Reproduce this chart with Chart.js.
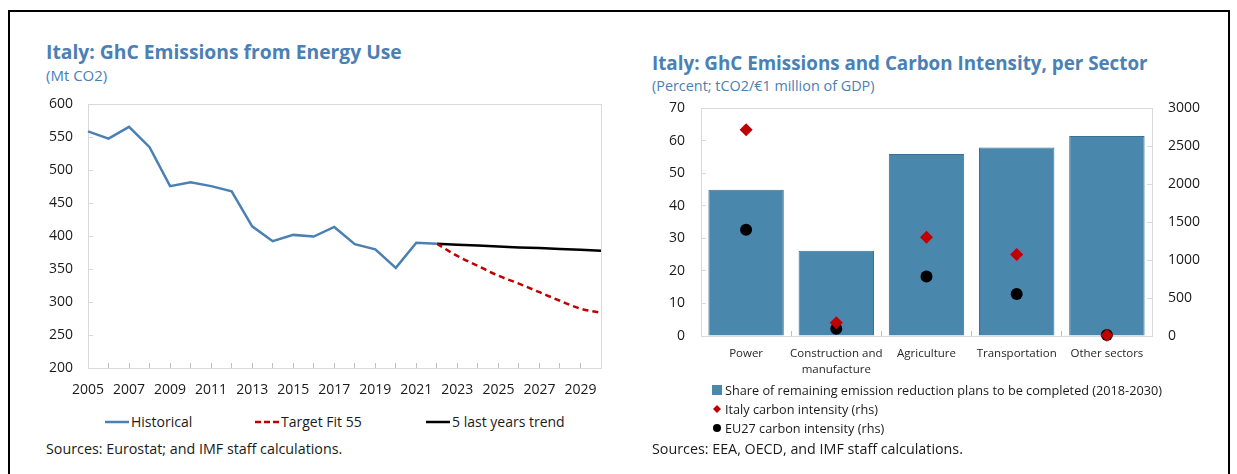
<!DOCTYPE html>
<html>
<head>
<meta charset="utf-8">
<script src="https://cdn.jsdelivr.net/npm/chart.js@4.4.1/dist/chart.umd.min.js"></script>
<style>
  body { margin: 0; width: 1237px; height: 474px; overflow: hidden; background: #fff;
         font-family: "Open Sans", sans-serif; color: #1a1a1a; position: relative; }
  .frame { position: absolute; left: 8px; top: 10px; width: 1218px; height: 480px; border: 2px solid #000; }
  .title { position: absolute; font-weight: 700; line-height: 20px; color: #4a80b4; white-space: nowrap; }
  .sub { position: absolute; line-height: 18px; color: #4a80b4; white-space: nowrap; }
  .src { position: absolute; font-size: 14.3px; line-height: 18px; white-space: nowrap; }
  .leg { position: absolute; white-space: nowrap; display: flex; align-items: center; }
  .leg svg { margin-right: 2px; }
  canvas { position: absolute; }
</style>
</head>
<body>
<div class="frame"></div>

<div class="title" style="left:46px; top:42px; font-size:19.3px;">Italy: GhC Emissions from Energy Use</div>
<div class="sub" style="left:46px; top:66px; font-size:15px;">(Mt CO2)</div>
<canvas id="left" width="590" height="326" style="left:30px; top:76px;"></canvas>
<div id="leftLegend"></div>
<div class="src" style="left:46px; top:440px;">Sources: Eurostat; and IMF staff calculations.</div>

<div class="title" style="left:652px; top:53px; font-size:18.8px;">Italy: GhC Emissions and Carbon Intensity, per Sector</div>
<div class="sub" style="left:652px; top:77px; font-size:14.4px;">(Percent; tCO2/€1 million of GDP)</div>
<canvas id="right" width="597" height="306" style="left:640px; top:79px;"></canvas>
<div id="rightLegend"></div>
<div class="src" style="left:652px; top:440px;">Sources: EEA, OECD, and IMF staff calculations.</div>

<script>
// left chart: emissions from energy use (Mt CO2)
const years = ['2005', '2006', '2007', '2008', '2009', '2010', '2011', '2012', '2013', '2014', '2015', '2016', '2017',
               '2018', '2019', '2020', '2021', '2022', '2023', '2024', '2025', '2026', '2027', '2028', '2029', '2030'];
const historical = [559, 548, 566, 535, 476, 482, 476, 468, 415, 392.5, 402, 399.5, 414,
                    388, 380, 352, 390, 388.5, null, null, null, null, null, null, null, null];
const targetFit55 = [null, null, null, null, null, null, null, null, null, null, null, null, null,
                     null, null, null, null, 388.5, 370, 355, 340, 328, 315, 302, 290, 284];
const trend5y = [null, null, null, null, null, null, null, null, null, null, null, null, null,
                 null, null, null, null, 388.5, 387, 386, 384.5, 383, 382, 380.5, 379.5, 378];

// right chart: share of plans left and carbon intensity per sector
const sectors = ['Power', ['Construction and', 'manufacture'], 'Agriculture', 'Transportation', 'Other sectors'];
const shareRemaining = [45, 26.2, 56, 58, 61.5];
const italyIntensity = [2720, 175, 1300, 1075, 10];
const eu27Intensity = [1400, 95, 785, 555, 12];

const blue = '#4a80b4';
const barBlue = '#4a87ad';
const red = '#c00000';
const frameGrey = '#d9d9d9';
const axisGrey = '#bfbfbf';

Chart.defaults.font.family = '"Open Sans", sans-serif';
Chart.defaults.color = '#1a1a1a';

// light box round the plot area
const plotFrame = {
    id: 'plotFrame',
    beforeDatasetsDraw(chart) {
        const { ctx, chartArea: a } = chart;
        ctx.save();
        ctx.strokeStyle = frameGrey;
        ctx.lineWidth = 1;
        ctx.strokeRect(Math.round(a.left) + 0.5, Math.round(a.top) + 0.5, Math.round(a.width), Math.round(a.height));
        ctx.restore();
    }
};

new Chart(document.getElementById('left'), {
    type: 'line',
    data: {
        labels: years,
        datasets: [{
            label: 'Historical',
            data: historical,
            borderColor: blue,
            borderWidth: 2.5,
            pointRadius: 0
        },
        {
            label: 'Target Fit 55',
            data: targetFit55,
            borderColor: red,
            borderWidth: 2.5,
            borderDash: [6, 4],
            cubicInterpolationMode: 'monotone',
            pointRadius: 0
        },
        {
            label: '5 last years trend',
            data: trend5y,
            borderColor: '#000',
            borderWidth: 2.5,
            pointRadius: 0
        }]
    },
    options: {
        responsive: false,
        animation: false,
        layout: { padding: { top: 10, right: 15 } },
        plugins: { legend: { display: false }, tooltip: { enabled: false } },
        scales: {
            x: {
                offset: false,
                grid: { drawOnChartArea: false, tickLength: -5, tickColor: axisGrey },
                border: { color: axisGrey },
                ticks: {
                    autoSkip: false, maxRotation: 0, padding: 19, font: { size: 14 },
                    callback: (v, i) => i % 2 === 0 ? years[i] : ''
                },
                afterFit: s => { s.height = 34; }
            },
            y: {
                min: 200, max: 600,
                grid: { drawOnChartArea: false, tickLength: -5, tickColor: frameGrey },
                border: { color: frameGrey },
                ticks: { stepSize: 50, padding: 20, font: { size: 14 } },
                afterFit: s => { s.width = 58; }
            }
        }
    },
    plugins: [plotFrame]
});

new Chart(document.getElementById('right'), {
    type: 'bar',
    data: {
        labels: sectors,
        datasets: [{
            type: 'line',
            label: 'Italy carbon intensity (rhs)',
            data: italyIntensity,
            yAxisID: 'y2',
            showLine: false,
            pointStyle: 'rectRot',
            pointRadius: 6.5,
            backgroundColor: red,
            borderColor: red,
            borderWidth: 0,
            clip: false,
            order: 1
        },
        {
            type: 'line',
            label: 'EU27 carbon intensity (rhs)',
            data: eu27Intensity,
            yAxisID: 'y2',
            showLine: false,
            pointStyle: 'circle',
            pointRadius: 6,
            backgroundColor: '#000',
            borderColor: '#000',
            borderWidth: 0,
            clip: false,
            order: 2
        },
        {
            label: 'Share of remaining emission reduction plans to be completed (2018-2030)',
            data: shareRemaining,
            yAxisID: 'y',
            backgroundColor: barBlue,
            borderColor: '#3d6f90',
            borderWidth: 1,
            barPercentage: 0.836,
            categoryPercentage: 1,
            order: 3
        }]
    },
    options: {
        responsive: false,
        animation: false,
        layout: { padding: { top: 11 } },
        plugins: { legend: { display: false }, tooltip: { enabled: false } },
        scales: {
            x: {
                grid: { offset: true, drawOnChartArea: false, tickLength: -5, tickColor: axisGrey },
                border: { color: axisGrey },
                ticks: { autoSkip: false, maxRotation: 0, minRotation: 0, padding: 15, color: '#262626',
                         font: { size: 11.5, lineHeight: 1.4 } },
                afterFit: s => { s.height = 49; }
            },
            y: {
                position: 'left', min: 0, max: 70,
                grid: { drawOnChartArea: false, tickLength: -5, tickColor: frameGrey },
                border: { color: frameGrey },
                ticks: { stepSize: 10, padding: 21, font: { size: 14 } },
                afterFit: s => { s.width = 61; }
            },
            y2: {
                position: 'right', min: 0, max: 3000,
                grid: { drawOnChartArea: false, tickLength: -5, tickColor: frameGrey },
                border: { color: frameGrey },
                ticks: { stepSize: 500, padding: 21, font: { size: 14 }, callback: v => String(v) },
                afterFit: s => { s.width = 85; }
            }
        }
    },
    plugins: [plotFrame]
});

// legends as html
const lineMark = (color, dash) =>
    `<svg width="24" height="6"><line x1="0" y1="3" x2="24" y2="3" stroke="${color}" stroke-width="2.5" ${dash ? 'stroke-dasharray="6 3"' : ''}/></svg>`;

const leftItems = [
    { x: 105, mark: lineMark(blue), text: 'Historical' },
    { x: 255, mark: lineMark(red, true), text: 'Target Fit 55' },
    { x: 426, mark: lineMark('#000'), text: '5 last years trend' }
];
document.getElementById('leftLegend').innerHTML = leftItems.map(it =>
    `<div class="leg" style="left:${it.x}px; top:413px; font-size:14px; line-height:18px;">${it.mark}<span>${it.text}</span></div>`).join('');

const rightItems = [
    { y: 381, mark: `<svg width="11" height="10"><rect x="0" y="0" width="10" height="10" fill="${barBlue}"/></svg>`, text: 'Share of remaining emission reduction plans to be completed (2018-2030)' },
    { y: 400, mark: `<svg width="11" height="10"><polygon points="5,1 9,5 5,9 1,5" fill="${red}"/></svg>`, text: 'Italy carbon intensity (rhs)' },
    { y: 419, mark: `<svg width="11" height="10"><circle cx="5" cy="5" r="4" fill="#000"/></svg>`, text: 'EU27 carbon intensity (rhs)' }
];
document.getElementById('rightLegend').innerHTML = rightItems.map(it =>
    `<div class="leg" style="left:712px; top:${it.y}px; font-size:12.7px; line-height:18px;">${it.mark}<span>${it.text}</span></div>`).join('');
</script>
</body>
</html>
